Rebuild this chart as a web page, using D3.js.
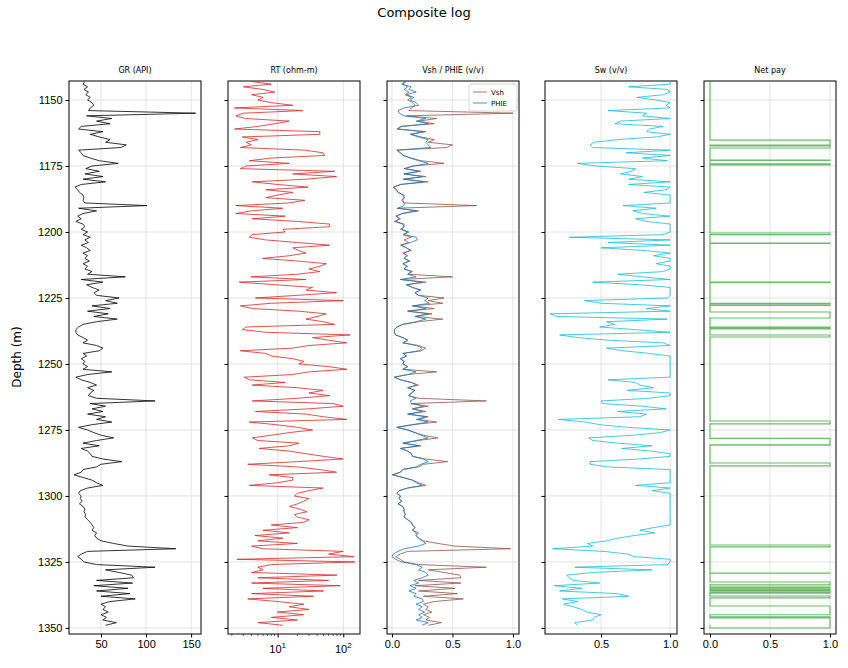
<!DOCTYPE html>
<html><head><meta charset="utf-8">
<script src="https://cdn.jsdelivr.net/npm/d3@7"></script>
<style>body{margin:0;background:#fff}svg{font-family:"DejaVu Sans",sans-serif}</style>
</head><body><svg id="c" width="848" height="668"></svg>
<script>
const depthStart = 1143;
const gr = [32,30,35,31,36,33,38,35,40,42, 38,36,155,34,62,45,60,28,25,52, 38,48,60,55,78,72,25,28,30,38,
48,69,40,33,48,32,52,30,55,28, 21,24,26,30,31,30,32,101,25,45, 30,24,28,22,30,32,28,35,30,38,
32,36,28,34,38,30,35,32,37,30, 35,32,40,35,77,28,52,34,40,48, 42,45,70,55,68,40,60,35,58,42,
68,45,30,25,22,22,24,30,35,30, 45,52,48,30,34,28,32,30,35,30, 62,35,22,28,38,45,35,42,38,36,
45,110,38,55,40,52,35,55,45,62, 40,25,35,42,50,64,45,30,48,28, 35,38,40,52,73,50,45,30,28,20,
30,40,45,52,35,27,25,28,27,29, 26,30,32,31,33,32,35,38,40,42, 40,45,43,45,50,64,80,133,35,28,
24,28,31,45,110,55,70,84,86,45, 85,42,80,45,82,50,88,60,50,55, 52,58,50,56,52,67,55];
const rt = [4,8,3,6,9,4,6,5,8,17, 2.2,24,3,2.3,3.2,15,9,5,2.2,44, 44,2.9,5,3.3,4,2.7,26,49,52,8,
3.7,15,3.3,2.7,74,17,79,27,4.1,10, 29,6.6,17,10,6.6,26,15,2.3,12,4, 2.3,13,4.1,20,62,62,12,13,4.1,3.7,
6.6,20,62,17,21,27,15,5.9,20,55, 44,30,44,20,3.9,27,2.6,9.4,34,27, 79,20,4.6,100,8,2.7,4.1,21,55,40,
27,50,74,3.3,2.9,6.6,127,34,60,113, 30,17,2.7,6.6,8,17,25,21,60,113, 30,17,3.1,3.7,13,4.1,20,49,30,62,
20,4.1,70,100,30,4.6,27,50,113,3.7, 9.4,20,34,15,8,4.1,5,21,15,5.2, 15,27,50,100,20,3.5,20,44,79,7.4,
17,17,10,3.7,49,30,20,18,30,25, 20,15,22,28,18,20,30,25,8,20, 6,15,4.5,12,5,20,4,6,100,60,
143,2.4,150,8,5,6,4,80,5,60, 4,90,6,50,4,35,3.5,10,25,15, 30,10,25,8,20,5,12];
const vsh = [.10,.09,.13,.10,.14,.11,.16,.13,.17,.19, .16,.14,1.0,.12,.37,.22,.35,.07,.04,.28, .16,.24,.35,.30,.50,.45,.04,.07,.09,.16,
.24,.43,.17,.11,.24,.10,.28,.09,.30,.07, .01,.03,.05,.09,.10,.09,.10,.70,.04,.22, .09,.03,.07,.02,.09,.10,.07,.13,.09,.16,
.10,.14,.07,.12,.16,.09,.13,.10,.15,.09, .13,.10,.17,.13,.50,.07,.28,.12,.17,.24, .19,.22,.43,.30,.42,.17,.35,.13,.33,.19,
.42,.22,.09,.04,.02,.02,.03,.09,.13,.09, .22,.28,.24,.09,.12,.07,.10,.09,.13,.09, .37,.13,.02,.07,.16,.22,.13,.19,.16,.14,
.22,.78,.16,.30,.17,.28,.13,.30,.22,.37, .17,.04,.13,.19,.26,.38,.22,.09,.24,.07, .13,.16,.17,.28,.46,.26,.22,.09,.07,0,
.09,.17,.22,.28,.13,.06,.04,.07,.06,.08, .05,.09,.10,.10,.11,.10,.13,.16,.17,.19, .17,.22,.20,.22,.26,.38,.52,.98,.13,.07,
.03,.07,.10,.22,.78,.30,.43,.56,.57,.22, .57,.19,.52,.22,.54,.26,.59,.35,.26,.30, .28,.33,.26,.31,.28,.41,.30];
const phie = [.12,.08,.16,.14,.2,.12,.18,.15,.2,.22, .1,.05,.06,.1,.28,.2,.3,.08,.05,.26, .15,.22,.3,.28,.3,.32,.04,.07,.1,.15,
.22,.3,.18,.1,.22,.1,.25,.1,.26,.07, .02,.04,.05,.1,.1,.08,.1,.1,.05,.2, .08,.04,.06,.03,.1,.1,.08,.14,.1,.2,
.21,.15,.08,.12,.15,.1,.12,.1,.14,.09, .12,.1,.16,.13,.2,.07,.25,.12,.17,.23, .19,.22,.3,.27,.31,.17,.28,.13,.3,.19,
.28,.2,.09,.04,.02,.02,.03,.09,.13,.09, .2,.25,.23,.09,.12,.07,.1,.09,.13,.09, .2,.13,.02,.07,.16,.2,.13,.19,.16,.14,
.2,.15,.16,.26,.17,.25,.13,.28,.2,.3, .17,.04,.13,.19,.24,.3,.2,.09,.22,.07, .13,.16,.17,.26,.3,.24,.2,.09,.07,.01,
.09,.17,.2,.25,.13,.06,.04,.07,.06,.08, .05,.09,.1,.1,.11,.1,.13,.16,.17,.19, .17,.2,.2,.22,.25,.28,.22,.1,.05,.01,
0,.03,.08,.2,.25,.22,.28,.3,.25,.18, .22,.15,.2,.14,.2,.18,.25,.26,.2,.25, .22,.27,.22,.25,.2,.3,.25];
const sw = [1,1,.70,.98,1,.95,.76,.9,1,.97, 1,.55,.83,.8,1,.64,.6,.95,.85,.83, 1,.9,.62,.45,.42,.44,1,.68,1,.8,
.98,.33,.46,.75,.72,.64,.8,.7,1,.7, 1,.97,.81,1,1,1,1,.66,.9,.73, .8,1,.75,.83,1,1,1,1,.95,.27,
1,.55,1,.5,.81,1,.88,1,1,.9, 1,1,.95,.62,.8,1,.44,.78,1,1, 1,1,.98,.38,.5,1,.83,1,.13,.18,
.98,.54,.6,.49,.75,1,.2,.33,.55,.95, 1,.54,.66,.85,1,1,1,1,1,1, 1,1,1,.55,.75,.78,.88,.69,1,1,
.85,.5,.51,.8,.97,.62,.83,.78,.19,.39, .49,.69,1,.93,.73,.41,.44,.62,.87,.65, .86,1,1,.78,.42,.42,.55,1,1,1,
1,1,1,.75,1,.87,1,1,1,1, 1,1,1,1,1,1,1,1,1,.88, .78,.89,.74,.62,.54,.4,.44,.15,.52,.69,
.74,1,1,.98,.31,.87,.44,.25,.27,.3, .49,.16,.36,.2,.62,.7,.22,.33,.23,.3, .36,.4,.5,.45,.44,.31,.33];
const payTop  = [1165.2,1167.4,1172.7,1174.2,1200.4,1204.2,1219.0,1227.0,1227.6,1230.3,1236.0,1236.5,1239.0,1271.6,1278.2,1280.7,1287.5,1318.6,1329.2,1332.6,1334.5,1335.2,1335.8,1336.6,1337.9,1341.7,1345.8,1346.2];
const payBase = [1167.1,1168.2,1172.9,1174.6,1201.0,1204.3,1219.1,1227.1,1227.8,1232.6,1236.1,1236.7,1239.8,1272.7,1280.6,1280.8,1288.6,1319.3,1329.3,1333.7,1334.7,1335.4,1336.3,1336.8,1338.6,1345.0,1345.9,1350.0];
const yTicks = [1150,1175,1200,1225,1250,1275,1300,1325,1350];
const titles = ["GR (API)","RT (ohm-m)","Vsh / PHIE (v/v)","Sw (v/v)","Net pay"];

const svg = d3.select("#c");
const yTop = 81, yBot = 634;
const y = d3.scaleLinear().domain([1142.8,1352.3]).range([yTop,yBot]);
const depths = d3.range(gr.length).map(i=>depthStart+i);
const lefts = [69,228,387,545,704], W = 132;
const xs = [
  d3.scaleLinear().domain([14.4,161]).range([lefts[0],lefts[0]+W]),
  d3.scaleLog().domain([1.75,180]).range([lefts[1],lefts[1]+W]),
  d3.scaleLinear().domain([-0.041,1.05]).range([lefts[2],lefts[2]+W]),
  d3.scaleLinear().domain([0.094,1.05]).range([lefts[3],lefts[3]+W]),
  d3.scaleLinear().domain([-0.05,1.05]).range([lefts[4],lefts[4]+W])
];
const xt = [[50,100,150],[10,100],[0,0.5,1],[0.5,1],[0,0.5,1]];
const fmt = [d=>d, null, d3.format(".1f"), d3.format(".1f"), d3.format(".1f")];

svg.append("text").attr("x",424).attr("y",17).attr("text-anchor","middle").attr("font-size",13).text("Composite log");
svg.append("text").attr("transform","translate(21,357) rotate(-90)").attr("text-anchor","middle").attr("font-size",12).text("Depth (m)");

const clipId = i=>"clip"+i;
xs.forEach((x,i)=>{
  const g = svg.append("g");
  g.append("clipPath").attr("id",clipId(i)).append("rect").attr("x",lefts[i]).attr("y",yTop).attr("width",W).attr("height",yBot-yTop);
  const gx = xt[i];
  g.selectAll(".vg").data(gx).join("line").attr("x1",d=>x(d)).attr("x2",d=>x(d)).attr("y1",yTop).attr("y2",yBot).attr("stroke","#dcdcdc").attr("stroke-width",0.8);
  g.selectAll(".hg").data(yTicks).join("line").attr("x1",lefts[i]).attr("x2",lefts[i]+W).attr("y1",d=>y(d)).attr("y2",d=>y(d)).attr("stroke","#dcdcdc").attr("stroke-width",0.8);
  g.append("text").attr("x",lefts[i]+W/2).attr("y",73).attr("text-anchor","middle").attr("font-size",8).text(titles[i]);
  const ax = g.append("g").attr("transform",`translate(0,${yBot})`);
  if(i===1){
    ax.call(d3.axisBottom(x).tickValues([10,100]).tickFormat("").tickSize(3.5));
    const minors=[2,3,4,5,6,7,8,9,20,30,40,50,60,70,80,90];
    ax.selectAll(".mn").data(minors).join("line").attr("x1",d=>x(d)).attr("x2",d=>x(d)).attr("y1",0).attr("y2",2).attr("stroke","#000").attr("stroke-width",0.6);
    [[10,"1"],[100,"2"]].forEach(([v,e])=>{
      const t=ax.append("text").attr("x",x(v)).attr("y",19).attr("text-anchor","middle").attr("font-size",11);
      t.append("tspan").text("10"); t.append("tspan").attr("dy",-5).attr("font-size",8).text(e);
    });
  } else {
    ax.call(d3.axisBottom(x).tickValues(xt[i]).tickFormat(fmt[i]).tickSize(3.5));
  }
  ax.selectAll("text").attr("font-size",11).attr("fill","#000");
  ax.select(".domain").remove();
  const ay = g.append("g").attr("transform",`translate(${lefts[i]},0)`).call(d3.axisLeft(y).tickValues(yTicks).tickSize(3.5).tickFormat(i===0? d=>d : ""));
  ay.selectAll("text").attr("font-size",11).attr("fill","#000");
  ay.select(".domain").remove();
  g.append("rect").attr("x",lefts[i]).attr("y",yTop).attr("width",W).attr("height",yBot-yTop).attr("fill","none").attr("stroke","#000").attr("stroke-width",1);
});

function curve(i, vals, color, w){
  const line = d3.line().x(d=>xs[i](d[1])).y(d=>y(d[0]));
  svg.append("path").datum(depths.map((d,k)=>[d,vals[k]]).filter(d=>d[1]!==undefined))
    .attr("d",line).attr("fill","none").attr("stroke",color).attr("stroke-width",w)
    .attr("clip-path",`url(#${clipId(i)})`);
}
curve(0, gr, "#000", 0.8);
curve(1, rt, "#d62728", 0.8);
curve(2, vsh, "#8c564b", 0.8);
curve(2, phie, "#1f77b4", 0.8);
curve(3, sw, "#17becf", 0.8);

const pts=[[depthStart,0]];
payTop.forEach((t,k)=>{pts.push([t,0],[t,1],[payBase[k],1],[payBase[k],0]);});
pts.push([depthStart+gr.length-1,0]);
svg.append("path").datum(pts).attr("d",d3.line().x(d=>xs[4](d[1])).y(d=>y(d[0])))
  .attr("fill","none").attr("stroke","#2ca02c").attr("stroke-opacity",0.7).attr("stroke-width",1.1)
  .attr("clip-path",`url(#${clipId(4)})`);

const lg = svg.append("g");
lg.append("rect").attr("x",469).attr("y",84).attr("width",48).attr("height",27).attr("rx",2).attr("fill","#fff").attr("fill-opacity",0.8).attr("stroke","#ccc").attr("stroke-width",0.8);
[["Vsh","#8c564b"],["PHIE","#1f77b4"]].forEach(([n,c],k)=>{
  const yy=92+k*11;
  lg.append("line").attr("x1",473).attr("x2",487).attr("y1",yy).attr("y2",yy).attr("stroke",c).attr("stroke-width",0.8);
  lg.append("text").attr("x",491).attr("y",yy+2.5).attr("font-size",7).text(n);
});
</script></body></html>
